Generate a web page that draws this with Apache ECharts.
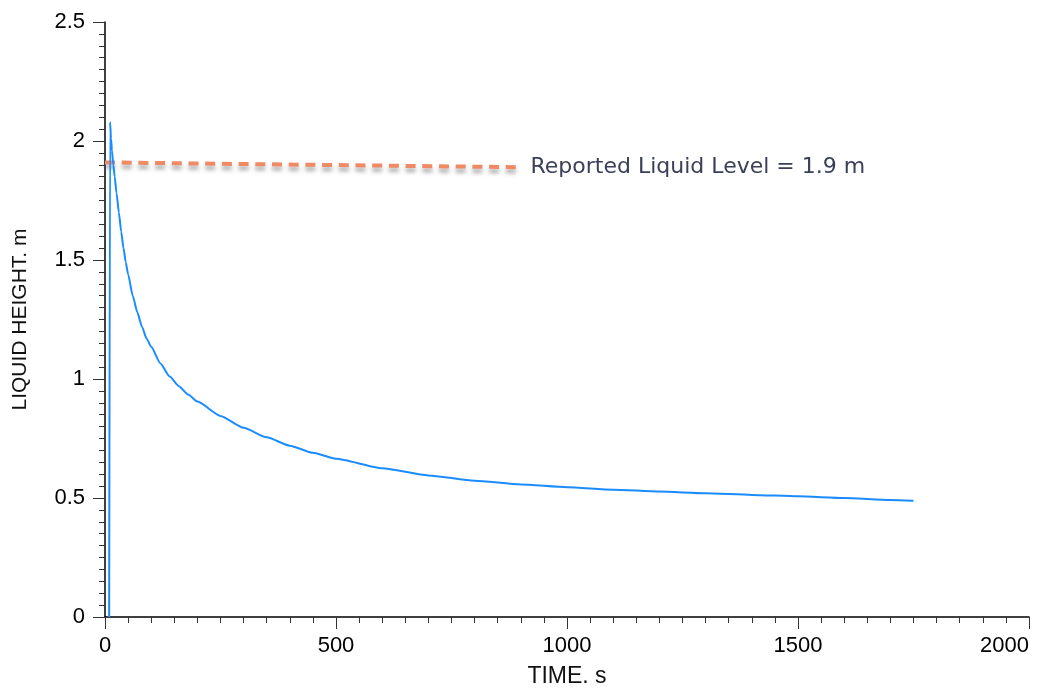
<!DOCTYPE html>
<html>
<head>
<meta charset="utf-8">
<title>Liquid height</title>
<script src="https://cdn.jsdelivr.net/npm/echarts@6/dist/echarts.min.js"></script>
<style>
  html, body { margin: 0; padding: 0; background: #fff; }
  #chart { width: 1039px; height: 692px; }
</style>
</head>
<body>
<div id="chart"></div>
<script>
// time (s) and liquid height (m)
var timeS = [9, 11, 13, 15, 18, 21, 25, 30, 35, 40, 45, 50, 60, 70, 80, 90, 100, 120, 140, 160, 180, 200, 250, 300, 350, 400, 450, 500, 600, 700, 800, 900, 1000, 1100, 1200, 1300, 1400, 1500, 1600, 1700, 1750];
var heightM = [0, 2.08, 2.01, 1.96, 1.90, 1.85, 1.78, 1.70, 1.62, 1.55, 1.49, 1.44, 1.35, 1.28, 1.22, 1.17, 1.135, 1.065, 1.01, 0.97, 0.935, 0.905, 0.845, 0.795, 0.755, 0.72, 0.69, 0.665, 0.625, 0.595, 0.573, 0.557, 0.545, 0.535, 0.527, 0.52, 0.513, 0.507, 0.50, 0.492, 0.488];

// reported level line (slightly sloped in the original)
var reportedT = [0, 895];
var reportedH = [1.91, 1.89];
var reportedLabel = "Reported Liquid Level = 1.9 m";

var chart = echarts.init(document.getElementById("chart"));

function zip(a, b) {
  return a.map(function (v, i) { return [v, b[i]]; });
}

chart.setOption({
  animation: false,
  grid: {
    left: 105,
    right: 10,
    top: 22,
    bottom: 75,
    outerBoundsMode: "none"
  },
  xAxis: {
    type: "value",
    min: 0,
    max: 2000,
    interval: 500,
    name: "TIME. s",
    nameLocation: "middle",
    nameGap: 48,
    nameTextStyle: { fontFamily: "Liberation Sans", fontSize: 23, color: "#111" },
    axisLine: { show: true, lineStyle: { color: "#000", width: 1.5 } },
    axisTick: { show: true, inside: false, length: 12, lineStyle: { color: "#333" } },
    minorTick: { show: true, splitNumber: 10, length: 6, lineStyle: { color: "#333" } },
    axisLabel: {
      fontFamily: "Liberation Sans", fontSize: 22, color: "#000", margin: 18,
      alignMaxLabel: "right",
      formatter: function (v) { return String(v); }
    },
    splitLine: { show: false }
  },
  yAxis: {
    type: "value",
    min: 0,
    max: 2.5,
    interval: 0.5,
    name: "LIQUID HEIGHT. m",
    nameLocation: "middle",
    nameGap: 74,
    nameRotate: 90,
    nameTextStyle: { fontFamily: "Liberation Sans", fontSize: 21, color: "#111" },
    axisLine: { show: true, lineStyle: { color: "#000", width: 1.5 } },
    axisTick: { show: true, inside: false, length: 12, lineStyle: { color: "#333" } },
    minorTick: { show: true, splitNumber: 10, length: 6, lineStyle: { color: "#333" } },
    axisLabel: { fontFamily: "Liberation Sans", fontSize: 22, color: "#000", margin: 20 },
    splitLine: { show: false }
  },
  series: [
    {
      type: "line",
      data: zip(timeS, heightM),
      showSymbol: false,
      smooth: 0.2,
      smoothMonotone: "x",
      lineStyle: { color: "#1a8cff", width: 2 },
      z: 3
    },
    {
      type: "line",
      data: zip(reportedT, reportedH),
      showSymbol: false,
      lineStyle: {
        color: "#f08a64",
        width: 4,
        type: [10, 6.7],
        shadowColor: "rgba(90,90,90,0.55)",
        shadowBlur: 4,
        shadowOffsetY: 4
      },
      endLabel: {
        show: true,
        formatter: reportedLabel,
        distance: 12,
        fontFamily: "DejaVu Sans",
        fontSize: 22,
        color: "#3b4058"
      },
      z: 2
    }
  ]
});
</script>
</body>
</html>
